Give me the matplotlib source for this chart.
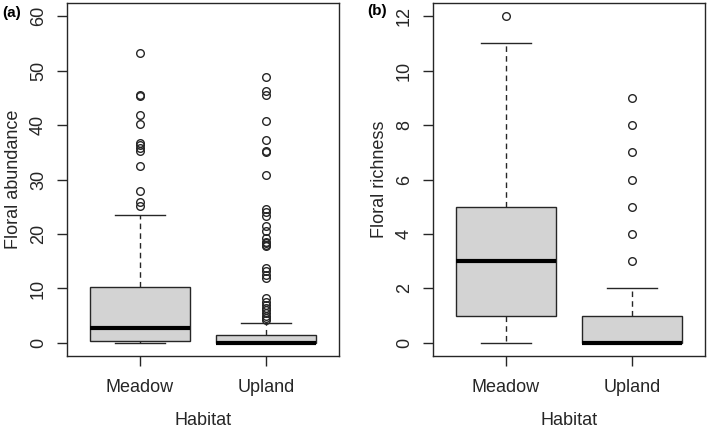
import matplotlib
matplotlib.use("Agg")
import matplotlib.pyplot as plt

plt.rcParams['font.family'] = ['Liberation Sans', 'DejaVu Sans']

# ---- data ----
habitats = ["Meadow", "Upland"]

# Panel (a): Floral abundance
abund_q1 = [0.4, 0.0]
abund_med = [2.8, 0.0]
abund_q3 = [10.2, 1.5]
abund_whislo = [0.0, 0.0]
abund_whishi = [23.4, 3.7]
abund_fliers_meadow = [53.3, 45.6, 45.3, 41.8, 40.1, 36.7, 36.4, 35.7, 35.3,
                       32.5, 27.9, 25.9, 25.1]
abund_fliers_upland = [48.9, 46.2, 45.6, 40.7, 37.2, 35.3, 35.1, 30.9,
                       24.5, 24.0, 23.3, 21.5, 20.5, 19.2, 18.6, 18.3, 18.0, 17.8,
                       13.8, 13.2, 12.5, 12.0,
                       8.3, 7.5, 7.0, 6.5, 6.0, 5.5, 5.0, 4.6, 4.2]
abund_ticks = [0, 10, 20, 30, 40, 50, 60]

# Panel (b): Floral richness
rich_q1 = [1, 0]
rich_med = [3, 0]
rich_q3 = [5, 1]
rich_whislo = [0, 0]
rich_whishi = [11, 2]
rich_fliers_meadow = [12]
rich_fliers_upland = [3, 4, 5, 6, 7, 8, 9]
rich_ticks = [0, 2, 4, 6, 8, 10, 12]

INK = "#262626"


def make_stats(q1, med, q3, lo, hi, fliers_list):
    out = []
    for i in range(len(q1)):
        out.append(dict(q1=q1[i], med=med[i], q3=q3[i], whislo=lo[i],
                        whishi=hi[i], fliers=fliers_list[i], label=habitats[i]))
    return out


def draw(ax, stats, ticks, ylabel, ylim, ylab_x):
    ax.bxp(stats, positions=[1, 2], widths=0.8, patch_artist=True,
           boxprops=dict(facecolor="#d3d3d3", edgecolor=INK, linewidth=1.0),
           medianprops=dict(color="black", linewidth=3.0, solid_capstyle="butt"),
           whiskerprops=dict(color=INK, linewidth=1.0, linestyle=(0, (4, 3))),
           capprops=dict(color=INK, linewidth=1.0),
           flierprops=dict(marker="o", markerfacecolor="none",
                           markeredgecolor=INK, markersize=5.5,
                           markeredgewidth=1.0, linestyle="none"))
    ax.set_xlim(0.42, 2.58)
    pad = (ylim[1] - ylim[0]) * 0.04
    ax.set_ylim(ylim[0] - pad, ylim[1] + pad)
    ax.set_yticks(ticks)
    ax.set_yticklabels([str(t) for t in ticks], rotation=90, va="center")
    ax.set_xticks([1, 2])
    ax.set_xticklabels(habitats)
    for s in ax.spines.values():
        s.set_linewidth(1.0)
        s.set_color(INK)
    ax.tick_params(axis="both", direction="out", length=7.5, width=1.0,
                   color=INK, labelsize=13, labelcolor=INK)
    ax.tick_params(axis="x", pad=9)
    ax.tick_params(axis="y", pad=7)
    ax.set_ylabel(ylabel, fontsize=13, color=INK)
    ax.set_xlabel("Habitat", fontsize=13, color=INK)
    ax.yaxis.set_label_coords(ylab_x, 0.5)
    ax.xaxis.set_label_coords(0.5, -0.16)
    ax.xaxis.label.set_va("top")


fig = plt.figure(figsize=(7.09, 4.34), dpi=100)
axa = fig.add_axes([67 / 709, 78 / 434, 272 / 709, 353 / 434])
axb = fig.add_axes([433 / 709, 78 / 434, 272 / 709, 353 / 434])

stats_a = make_stats(abund_q1, abund_med, abund_q3, abund_whislo, abund_whishi,
                     [abund_fliers_meadow, abund_fliers_upland])
stats_b = make_stats(rich_q1, rich_med, rich_q3, rich_whislo, rich_whishi,
                     [rich_fliers_meadow, rich_fliers_upland])

draw(axa, stats_a, abund_ticks, "Floral abundance", (0, 60), -0.167)
draw(axb, stats_b, rich_ticks, "Floral richness", (0, 12), -0.165)

fig.text(2 / 709, 1 - 13 / 434, "(a)", fontsize=11, fontweight="bold",
         va="center", ha="left", color="black")
fig.text(367 / 709, 1 - 11 / 434, "(b)", fontsize=11, fontweight="bold",
         va="center", ha="left", color="black")

fig.savefig("out.png", dpi=100)
